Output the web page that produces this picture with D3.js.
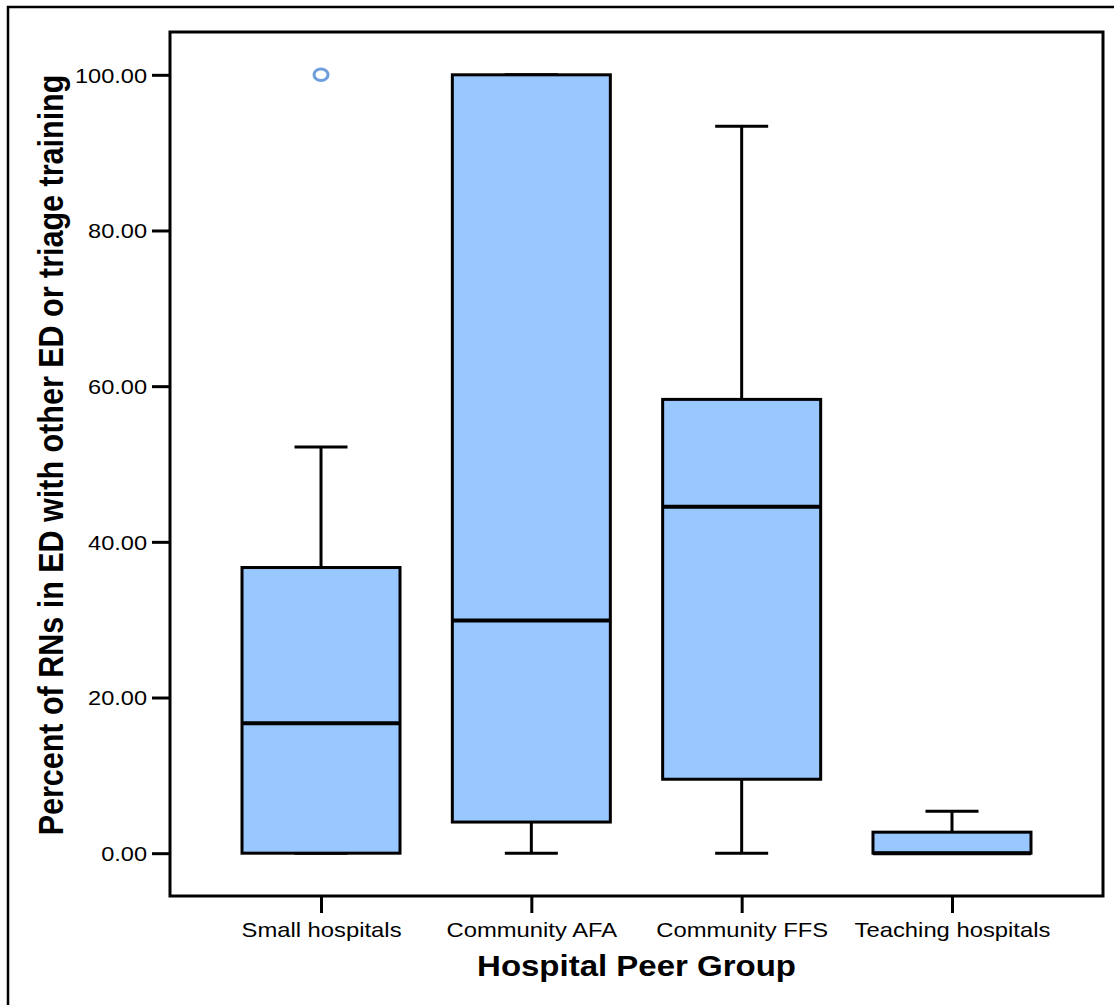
<!DOCTYPE html>
<html>
<head>
<meta charset="utf-8">
<script src="https://cdn.jsdelivr.net/npm/d3@7/dist/d3.min.js"></script>
<style>
  body { margin: 0; background: #fff; }
  svg { display: block; }
  text { font-family: "Liberation Sans", Arial, sans-serif; fill: #000; }
</style>
</head>
<body>
<div id="chart"></div>
<script>
// box plot values (percent)
const groups = ["Small hospitals", "Community AFA", "Community FFS", "Teaching hospitals"];
const lowWhisker = [0, 0, 0, 0];
const q1 = [0, 4.0, 9.5, 0];
const median = [16.7, 29.9, 44.5, 0];
const q3 = [36.7, 100, 58.3, 2.7];
const highWhisker = [52.2, 100, 93.4, 5.4];
const outlierGroups = ["Small hospitals"];
const outlierValues = [100];
const yTicks = [0, 20, 40, 60, 80, 100];

const width = 1114, height = 1005;
const plot = { left: 170, top: 32, right: 1103, bottom: 896 };
const stretch = 1.15; // source picture is a bit wider than tall

const svg = d3.select("#chart").append("svg")
    .attr("width", width)
    .attr("height", height);

// outer frame (right/bottom edges fall outside the picture)
svg.append("path")
    .attr("d", "M8," + (height + 5) + " V7 H" + (width + 5))
    .attr("fill", "none")
    .attr("stroke", "#000")
    .attr("stroke-width", 2.5);

const y = d3.scaleLinear().domain([-5.5, 105.5]).range([plot.bottom, plot.top]);
const x = d3.scalePoint().domain(groups).range([plot.left, plot.right]).padding(0.718);

const boxW = 158, capW = 53;

// y axis
const yAxisG = svg.append("g")
    .attr("transform", "translate(" + plot.left + ",0)")
    .call(d3.axisLeft(y).tickValues(yTicks).tickFormat(d3.format(".2f")).tickSize(18).tickSizeOuter(0));
yAxisG.select(".domain").remove();
yAxisG.selectAll(".tick line").attr("stroke", "#000").attr("stroke-width", 3);
yAxisG.selectAll(".tick text")
    .attr("x", null)
    .attr("dy", "0.36em")
    .attr("transform", "translate(-23,0) scale(" + stretch + ",1)")
    .style("font-size", "20.5px");

// x axis
const xAxisG = svg.append("g")
    .attr("transform", "translate(0," + plot.bottom + ")")
    .call(d3.axisBottom(x).tickSize(17).tickSizeOuter(0));
xAxisG.select(".domain").remove();
xAxisG.selectAll(".tick line").attr("stroke", "#000").attr("stroke-width", 3);
xAxisG.selectAll(".tick text")
    .attr("y", null)
    .attr("dy", null)
    .attr("transform", "translate(0,41) scale(" + stretch + ",1)")
    .style("font-size", "20.7px");

// plot frame
svg.append("rect")
    .attr("x", plot.left)
    .attr("y", plot.top)
    .attr("width", plot.right - plot.left)
    .attr("height", plot.bottom - plot.top)
    .attr("fill", "none")
    .attr("stroke", "#000")
    .attr("stroke-width", 3);

const boxes = svg.append("g").selectAll("g")
    .data(groups)
    .enter()
    .append("g");

// whiskers
boxes.append("line")
    .attr("x1", d => x(d)).attr("x2", d => x(d))
    .attr("y1", (d, i) => y(q3[i])).attr("y2", (d, i) => y(highWhisker[i]))
    .attr("stroke", "#000").attr("stroke-width", 3);
boxes.append("line")
    .attr("x1", d => x(d)).attr("x2", d => x(d))
    .attr("y1", (d, i) => y(q1[i])).attr("y2", (d, i) => y(lowWhisker[i]))
    .attr("stroke", "#000").attr("stroke-width", 3);
boxes.append("line")
    .attr("x1", d => x(d) - capW / 2).attr("x2", d => x(d) + capW / 2)
    .attr("y1", (d, i) => y(highWhisker[i])).attr("y2", (d, i) => y(highWhisker[i]))
    .attr("stroke", "#000").attr("stroke-width", 3);
boxes.append("line")
    .attr("x1", d => x(d) - capW / 2).attr("x2", d => x(d) + capW / 2)
    .attr("y1", (d, i) => y(lowWhisker[i])).attr("y2", (d, i) => y(lowWhisker[i]))
    .attr("stroke", "#000").attr("stroke-width", 3);

// boxes
boxes.append("rect")
    .attr("x", d => x(d) - boxW / 2)
    .attr("y", (d, i) => y(q3[i]))
    .attr("width", boxW)
    .attr("height", (d, i) => y(q1[i]) - y(q3[i]))
    .attr("fill", "#99c7ff")
    .attr("stroke", "#000")
    .attr("stroke-width", 3);

// medians
boxes.append("line")
    .attr("x1", d => x(d) - boxW / 2).attr("x2", d => x(d) + boxW / 2)
    .attr("y1", (d, i) => y(median[i])).attr("y2", (d, i) => y(median[i]))
    .attr("stroke", "#000").attr("stroke-width", 4);

// outliers
svg.append("g").selectAll("ellipse")
    .data(outlierValues)
    .enter()
    .append("ellipse")
    .attr("cx", (d, i) => x(outlierGroups[i]))
    .attr("cy", d => y(d))
    .attr("rx", 7)
    .attr("ry", 5.8)
    .attr("fill", "none")
    .attr("stroke", "#6e9fdc")
    .attr("stroke-width", 3);

// axis titles
svg.append("text")
    .attr("transform", "translate(" + ((plot.left + plot.right) / 2) + ",976) scale(" + stretch + ",1)")
    .attr("text-anchor", "middle")
    .style("font-size", "28.7px")
    .style("font-weight", "bold")
    .text("Hospital Peer Group");

svg.append("text")
    .attr("transform", "translate(63,455) scale(" + stretch + ",1) rotate(-90)")
    .attr("text-anchor", "middle")
    .style("font-size", "30.5px")
    .style("font-weight", "bold")
    .text("Percent of RNs in ED with other ED or triage training");
</script>
</body>
</html>
